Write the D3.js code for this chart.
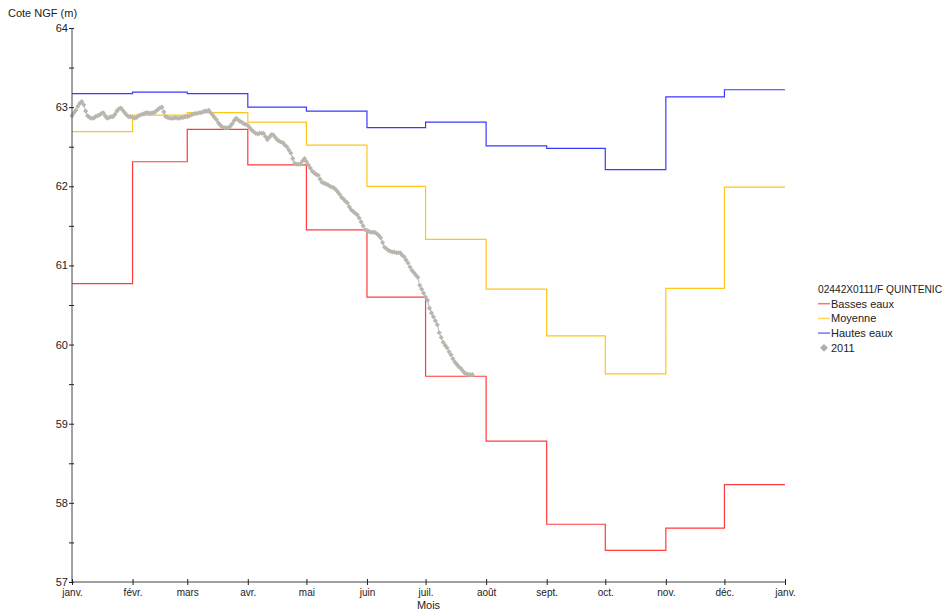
<!DOCTYPE html>
<html>
<head>
<meta charset="utf-8">
<script src="https://cdn.jsdelivr.net/npm/d3@7"></script>
<style>
    body { margin: 0; background: #fff; }
    svg text { font-family: "Liberation Sans", Arial, sans-serif; fill: #222; }
    .narrow text, text.narrow { font-family: "Liberation Sans Narrow", "Arial Narrow", "Liberation Sans", sans-serif; }
</style>
</head>
<body>
<div id="chart"></div>
<script>
// Month labels for the x axis (13 ticks, janv. to janv.)
const monthLabels = ["janv.", "févr.", "mars", "avr.", "mai", "juin", "juil.", "août", "sept.", "oct.", "nov.", "déc.", "janv."];

// Monthly reference levels (m NGF), janv. .. déc.
const bassesEaux = [60.77, 62.31, 62.72, 62.27, 61.45, 60.60, 59.60, 58.78, 57.73, 57.40, 57.68, 58.23];
const moyenne    = [62.69, 62.90, 62.93, 62.81, 62.52, 62.00, 61.33, 60.70, 60.11, 59.63, 60.71, 61.99];
const hautesEaux = [63.17, 63.19, 63.17, 63.00, 62.95, 62.74, 62.81, 62.51, 62.48, 62.21, 63.13, 63.22];

// 2011 daily levels, from 1 janv. onwards
const jan2011 = [62.89, 62.93, 62.96, 63.01, 63.05, 63.07, 63.03, 62.95, 62.89, 62.87, 62.86, 62.86, 62.88, 62.89, 62.90, 62.92,
    62.93, 62.89, 62.86, 62.87, 62.88, 62.88, 62.91, 62.95, 62.98, 62.99, 62.96, 62.93, 62.90, 62.88, 62.88];
const feb2011 = [62.87, 62.86, 62.87, 62.89, 62.90, 62.91, 62.92, 62.93, 62.93, 62.92, 62.93, 62.93, 62.95, 62.97, 62.99, 63.00,
    62.94, 62.88, 62.87, 62.86, 62.86, 62.86, 62.87, 62.86, 62.86, 62.87, 62.87, 62.88];
const mar2011 = [62.88, 62.89, 62.90, 62.91, 62.92, 62.92, 62.93, 62.93, 62.94, 62.95, 62.95, 62.96, 62.93, 62.90, 62.87, 62.84,
    62.80, 62.77, 62.75, 62.74, 62.74, 62.74, 62.76, 62.79, 62.83, 62.86, 62.84, 62.82, 62.81, 62.79, 62.78];
const apr2011 = [62.77, 62.74, 62.71, 62.69, 62.67, 62.66, 62.67, 62.67, 62.67, 62.63, 62.59, 62.62, 62.65, 62.65, 62.62, 62.59,
    62.57, 62.56, 62.55, 62.52, 62.50, 62.46, 62.42, 62.35, 62.29, 62.28, 62.28, 62.28, 62.32, 62.35];
const may2011 = [62.31, 62.27, 62.23, 62.19, 62.17, 62.15, 62.14, 62.09, 62.05, 62.04, 62.03, 62.02, 62.00, 61.99, 61.98, 61.96,
    61.93, 61.90, 61.86, 61.84, 61.81, 61.79, 61.74, 61.70, 61.68, 61.66, 61.64, 61.60, 61.55, 61.50, 61.45];
const jun2011 = [61.44, 61.43, 61.42, 61.42, 61.42, 61.40, 61.38, 61.35, 61.29, 61.23, 61.21, 61.19, 61.18, 61.17, 61.17, 61.16,
    61.16, 61.16, 61.13, 61.11, 61.07, 61.03, 60.98, 60.94, 60.91, 60.88, 60.85, 60.75, 60.70, 60.65];
const jul2011 = [60.60, 60.56, 60.46, 60.40, 60.35, 60.30, 60.25, 60.15, 60.09, 60.03, 59.99, 59.96, 59.91, 59.87, 59.82, 59.78,
    59.75, 59.72, 59.70, 59.67, 59.64, 59.63, 59.62, 59.62, 59.62];

const yMajorTicks = [57, 58, 59, 60, 61, 62, 63, 64];
const yMinorTicks = [57.5, 58.5, 59.5, 60.5, 61.5, 62.5, 63.5];

const width = 948;
const height = 611;
const plot = { left: 72, right: 785, top: 28, bottom: 582 };

const svg = d3.select("#chart")
    .append("svg")
    .attr("width", width)
    .attr("height", height);

// Scales
const x = d3.scaleUtc()
    .domain([new Date(Date.UTC(2011, 0, 1)), new Date(Date.UTC(2012, 0, 1))])
    .range([plot.left, plot.right]);

const y = d3.scaleLinear()
    .domain([57, 64])
    .range([plot.bottom, plot.top]);

// Build step series: one point per month start, plus closing point
function monthSteps(values) {
    const pts = values.map((v, i) => ({ date: new Date(Date.UTC(2011, i, 1)), value: v }));
    pts.push({ date: new Date(Date.UTC(2012, 0, 1)), value: values[values.length - 1] });
    return pts;
}

const stepLine = d3.line()
    .x(d => x(d.date))
    .y(d => y(d.value))
    .curve(d3.curveStepAfter);

const series = [
    { name: "Basses eaux", values: bassesEaux, color: "#ff3b3b" },
    { name: "Moyenne", values: moyenne, color: "#ffc61a" },
    { name: "Hautes eaux", values: hautesEaux, color: "#3a3aff" }
];

series.forEach(s => {
    svg.append("path")
        .datum(monthSteps(s.values))
        .attr("fill", "none")
        .attr("stroke", s.color)
        .attr("stroke-width", 1.2)
        .attr("d", stepLine);
});

// 2011 observations
const daily = [].concat(jan2011, feb2011, mar2011, apr2011, may2011, jun2011, jul2011)
    .map((v, i) => ({ date: new Date(Date.UTC(2011, 0, 1 + i)), value: v }));

svg.append("path")
    .datum(daily)
    .attr("fill", "none")
    .attr("stroke", "#aeb6cc")
    .attr("stroke-width", 1)
    .attr("d", d3.line().x(d => x(d.date)).y(d => y(d.value)));

// rotated square = true diamond
const diamond = d3.symbol().type(d3.symbolSquare).size(13);

svg.append("g")
    .selectAll("path")
    .data(daily)
    .enter()
    .append("path")
    .attr("transform", d => `translate(${x(d.date)},${y(d.value)}) rotate(45)`)
    .attr("d", diamond)
    .attr("fill", "#b9b6ae");

// Y axis
const yAxis = svg.append("g")
    .attr("transform", `translate(${plot.left},0)`)
    .call(d3.axisLeft(y).tickValues(yMajorTicks).tickFormat(d3.format("d")).tickSize(3).tickPadding(2));
yAxis.selectAll(".tick line").attr("x2", -3).attr("x1", 2).attr("stroke", "#222");
yAxis.selectAll(".tick text").attr("class", "narrow").style("font-size", "11px").attr("x", -4);

const yMinor = svg.append("g")
    .attr("transform", `translate(${plot.left},0)`)
    .call(d3.axisLeft(y).tickValues(yMinorTicks).tickFormat("").tickSize(3));
yMinor.selectAll(".tick line").attr("x1", 2).attr("stroke", "#222");
yMinor.select(".domain").remove();
yAxis.select(".domain").attr("stroke", "#444").attr("d", `M0,${plot.top}V${plot.bottom}`);

// X axis
const monthTicks = d3.range(13).map(i => new Date(Date.UTC(2011, i, 1)));
const xAxis = svg.append("g")
    .attr("transform", `translate(0,${plot.bottom})`)
    .call(d3.axisBottom(x).tickValues(monthTicks).tickFormat((d, i) => monthLabels[i]).tickSize(3).tickPadding(4));
xAxis.selectAll(".tick line").attr("y1", -3).attr("stroke", "#222");
xAxis.selectAll(".tick text").attr("class", "narrow").style("font-size", "10px");
xAxis.select(".domain").attr("stroke", "#444").attr("d", `M${plot.left},0H${plot.right}`);

// Axis titles
svg.append("text")
    .attr("x", 8)
    .attr("y", 17)
    .style("font-size", "11px")
    .text("Cote NGF (m)");

svg.append("text")
    .attr("class", "narrow")
    .attr("x", (plot.left + plot.right) / 2)
    .attr("y", 609)
    .attr("text-anchor", "middle")
    .style("font-size", "11px")
    .text("Mois");

// Legend
const legend = svg.append("g").attr("transform", "translate(818,293)");

legend.append("text")
    .attr("x", 0)
    .attr("y", 0)
    .style("font-size", "10.5px")
    .attr("textLength", 124)
    .attr("lengthAdjust", "spacingAndGlyphs")
    .text("02442X0111/F QUINTENIC");

series.forEach((s, i) => {
    const row = 14.7 * (i + 1);
    legend.append("line")
        .attr("x1", 0).attr("x2", 12)
        .attr("y1", row - 4).attr("y2", row - 4)
        .attr("stroke", s.color)
        .attr("stroke-opacity", 0.7)
        .attr("stroke-width", 1.5);
    legend.append("text")
        .attr("x", 13)
        .attr("y", row)
        .style("font-size", "11px")
        .text(s.name);
});

legend.append("path")
    .attr("transform", `translate(6,${14.7 * 4 - 4}) rotate(45)`)
    .attr("d", d3.symbol().type(d3.symbolSquare).size(30))
    .attr("fill", "#b0aea8");
legend.append("text")
    .attr("x", 13)
    .attr("y", 14.7 * 4)
    .style("font-size", "11px")
    .text("2011");
</script>
</body>
</html>
